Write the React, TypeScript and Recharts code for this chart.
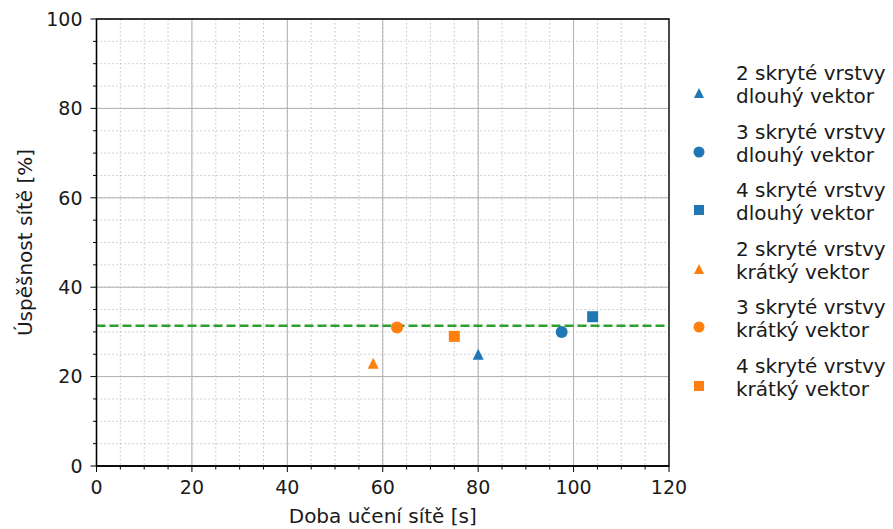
import { CartesianGrid, ReferenceArea, ReferenceLine, Scatter, ScatterChart, XAxis, YAxis } from "recharts";

const BLUE = "#1f77b4";
const ORANGE = "#ff7f0e";
const GREEN = "#2ca02c";

// one entry per series: 2/3/4 hidden layers, long vector then short vector
const seriesLabels = [
  ["2 skryté vrstvy", "dlouhý vektor"],
  ["3 skryté vrstvy", "dlouhý vektor"],
  ["4 skryté vrstvy", "dlouhý vektor"],
  ["2 skryté vrstvy", "krátký vektor"],
  ["3 skryté vrstvy", "krátký vektor"],
  ["4 skryté vrstvy", "krátký vektor"],
];
const trainTime = [80, 97.5, 104, 58, 63, 75];
const accuracy = [25, 30, 33.4, 23, 31, 29];
const markerKinds = ["triangle", "circle", "square", "triangle", "circle", "square"];
const markerColors = [BLUE, BLUE, BLUE, ORANGE, ORANGE, ORANGE];
const baseline = 31.4;

const xTicks = [0, 20, 40, 60, 80, 100, 120];
const yTicks = [0, 20, 40, 60, 80, 100];
const xMinorTicks = [0, 5, 10, 15, 20, 25, 30, 35, 40, 45, 50, 55, 60, 65, 70, 75, 80, 85, 90, 95, 100, 105, 110, 115, 120];
const yMinorTicks = [0, 5, 10, 15, 20, 25, 30, 35, 40, 45, 50, 55, 60, 65, 70, 75, 80, 85, 90, 95, 100];

const TEXT = "#1a1a1a";

function Marker({ cx, cy, kind, color, size = 6 }: { cx: number; cy: number; kind: string; color: string; size?: number }) {
  if (kind === "circle") return <circle cx={cx} cy={cy} r={size} fill={color} />;
  if (kind === "square") return <rect x={cx - size + 0.5} y={cy - size + 0.5} width={size * 2 - 1} height={size * 2 - 1} fill={color} />;
  const r = size - 0.5;
  return <path d={`M${cx},${cy - r}L${cx + r},${cy + r}L${cx - r},${cy + r}Z`} fill={color} />;
}

function XTick({ x, y, payload }: any) {
  const major = xTicks.includes(payload.value);
  return (
    <g>
      <line x1={x} x2={x} y1={y} y2={y + (major ? 6 : 3.5)} stroke="#000" strokeWidth={1} />
      {major && (
        <text x={x} y={y + 28} textAnchor="middle" fontSize={19} fill={TEXT}>
          {payload.value}
        </text>
      )}
    </g>
  );
}

function YTick({ x, y, payload }: any) {
  const major = yTicks.includes(payload.value);
  return (
    <g>
      <line x1={x} x2={x - (major ? 6 : 3.5)} y1={y} y2={y} stroke="#000" strokeWidth={1} />
      {major && (
        <text x={x - 14} y={y} dy="0.36em" textAnchor="end" fontSize={19} fill={TEXT}>
          {payload.value}
        </text>
      )}
    </g>
  );
}

export default function App() {
  return (
    <div style={{ position: "absolute", left: 0, top: 0, width: 893, height: 529, background: "#fff", fontFamily: "DejaVu Sans" }}>
      <ScatterChart width={893} height={529} margin={{ top: 19, right: 224, bottom: 0, left: 0 }}>
        <CartesianGrid stroke="#c4c4c4" strokeDasharray="1.5 2.5" strokeWidth={1} />
        <CartesianGrid stroke="#b0b0b0" strokeWidth={1} verticalValues={xTicks} horizontalValues={yTicks} />
        <XAxis
          type="number"
          dataKey="x"
          domain={[0, 120]}
          ticks={xMinorTicks}
          interval={0}
          height={63}
          tickSize={0}
          tickMargin={0}
          tickLine={false}
          tick={<XTick />}
          axisLine={{ stroke: "#000", strokeWidth: 1.3 }}
          label={{ value: "Doba učení sítě [s]", position: "insideBottom", offset: 6, fontSize: 20, fill: TEXT }}
        />
        <YAxis
          type="number"
          dataKey="y"
          domain={[0, 100]}
          ticks={yMinorTicks}
          interval={0}
          width={96.5}
          tickSize={0}
          tickMargin={0}
          tickLine={false}
          tick={<YTick />}
          axisLine={{ stroke: "#000", strokeWidth: 1.3 }}
          label={{ value: "Úspěšnost sítě [%]", angle: -90, position: "insideLeft", offset: 25, fontSize: 20, fill: TEXT, style: { textAnchor: "middle" } }}
        />
        <ReferenceArea x1={0} x2={120} y1={0} y2={100} stroke="#000" strokeWidth={1.3} fill="none" fillOpacity={0} ifOverflow="visible" />
        <ReferenceLine y={baseline} stroke={GREEN} strokeWidth={2.5} strokeDasharray="9 4" />
        {seriesLabels.map((label, i) => (
          <Scatter
            key={i}
            name={label.join(" ")}
            data={[{ x: trainTime[i], y: accuracy[i] }]}
            isAnimationActive={false}
            shape={(p: any) => <Marker cx={p.cx} cy={p.cy} kind={markerKinds[i]} color={markerColors[i]} />}
          />
        ))}
      </ScatterChart>
      <div style={{ position: "absolute", left: 684, top: 62, width: 209, color: TEXT, fontSize: 20, lineHeight: "23px" }}>
        {seriesLabels.map((label, i) => (
          <div key={i} style={{ position: "relative", height: 58.6, paddingLeft: 52 }}>
            <svg width={20} height={20} style={{ position: "absolute", left: 5, top: 21 }}>
              <Marker cx={10} cy={10} kind={markerKinds[i]} color={markerColors[i]} size={5.5} />
            </svg>
            <div style={{ whiteSpace: "nowrap" }}>{label[0]}</div>
            <div style={{ whiteSpace: "nowrap" }}>{label[1]}</div>
          </div>
        ))}
      </div>
    </div>
  );
}
